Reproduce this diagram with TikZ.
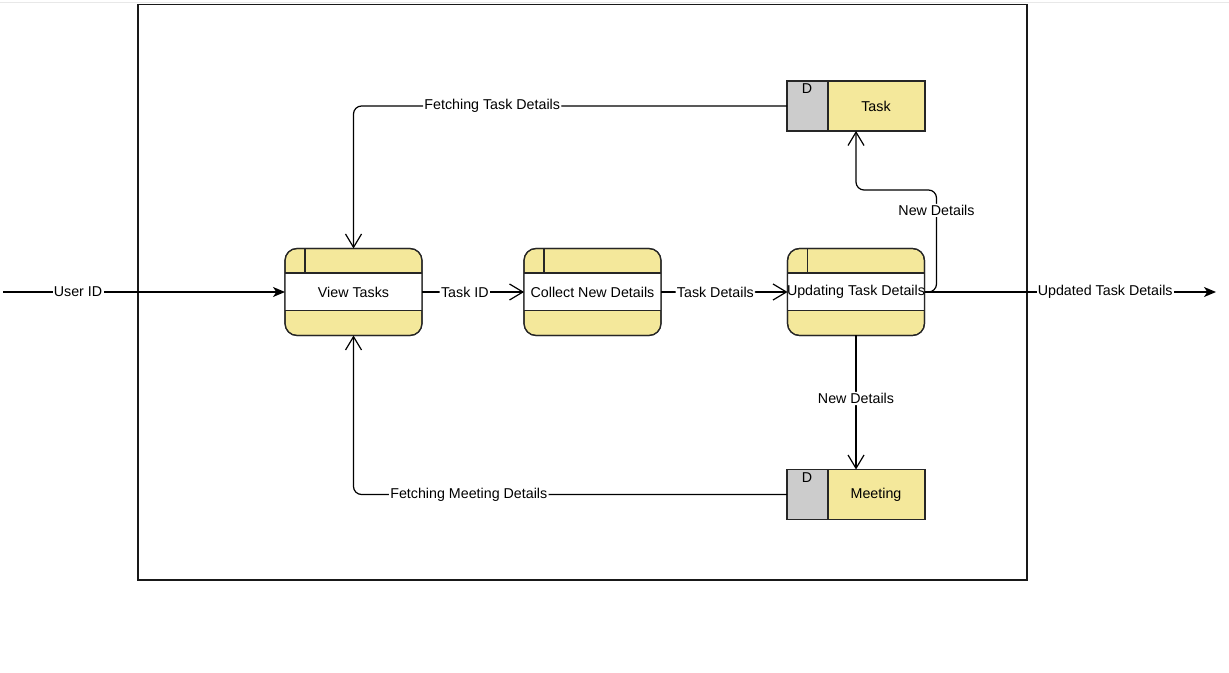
\documentclass[tikz,border=0pt]{standalone}
\usepackage{fontspec}
\setmainfont{Liberation Sans}
\usetikzlibrary{arrows.meta,calc}
\definecolor{procyellow}{RGB}{244,232,155}
\definecolor{storegray}{RGB}{204,204,204}
\definecolor{edgegray}{RGB}{232,232,232}
\tikzset{
  txt/.style={font=\fontsize{10.7}{12}\selectfont, text=black},
  procshape/.style={draw=black!85, line width=0.9pt, fill=procyellow, rounded corners=9pt,
    minimum width=102.75pt, minimum height=65.25pt, inner sep=0pt, outer sep=0pt},
  storeshape/.style={draw=black!85, line width=0.9pt, fill=procyellow,
    minimum width=103.5pt, minimum height=37.5pt, inner sep=0pt, outer sep=0pt},
  lbl/.style={txt, fill=white, inner sep=1pt},
  flow/.style={draw=black, line width=0.9pt, rounded corners=6pt,
    -{Straight Barb[length=10pt,width=12pt,line width=0.9pt]}},
  flowio/.style={draw=black, line width=0.9pt,
    -{Stealth[length=9pt,width=7.5pt,inset=2.5pt]}},
}
% process box: name, x, y, text
\newcommand{\procbox}[4]{%
  \node[procshape] (#1) at (#2,#3) {};
  \fill[white] (#2-68.5,#3-19) rectangle (#2+68.5,#3+18.5);
  \draw[black!85, line width=0.9pt] (#2-68.5,#3-19) -- (#2+68.5,#3-19)
        (#2-68.5,#3+18.5) -- (#2+68.5,#3+18.5)
        (#2-48.5,#3-43.5) -- (#2-48.5,#3-19);
  \draw[black!85, line width=0.9pt, rounded corners=9pt]
        (#1.north west) rectangle (#1.south east);
  \node[txt] (#1-t) at (#2,#3) {#4};
}
% data store: name, x, y, text
\newcommand{\storebox}[4]{%
  \node[storeshape] (#1) at (#2,#3) {};
  \draw[black!85, line width=0.9pt, fill=storegray] (#2-69,#3-25) rectangle (#2-28,#3+25);
  \node[txt] (#1-d) at (#2-49,#3-17) {D};
  \node[txt] (#1-t) at (#2+20,#3) {#4};
}
\begin{document}
\begin{tikzpicture}[x=0.75pt,y=-0.75pt]
\useasboundingbox (0,0) rectangle (1229,673);
\draw[edgegray, line width=0.75pt] (0,3) -- (1229,3);
% system boundary
\draw[black!90, line width=0.9pt] (138,4.5) rectangle (1027,580);

\procbox{vt}{353.5}{292}{View Tasks}
\procbox{cnd}{592.5}{292}{Collect New Details}
\procbox{upd}{856}{292}{Updating Task Details}
\storebox{task}{856}{106}{Task}
\storebox{meet}{856}{494.5}{Meeting}

\coordinate (uin) at (3,292);
\coordinate (uout) at (1216,292);

\draw[flowio] (uin) -- node[lbl,pos=0.266]{User ID} (vt.west);
\draw[flow] (vt.east) -- node[lbl,pos=0.42]{Task ID} (cnd.west);
\draw[flow] (cnd.east) -- node[lbl,pos=0.43]{Task Details} (upd.west);
\draw[flowio] (upd.east) -- node[lbl,pos=0.62]{Updated Task Details} (uout);

\draw[flow] (task.west) -| node[lbl,pos=0.34]{Fetching Task Details} (vt.north);
\draw[flow] (meet.west) -| node[lbl,pos=0.367]{Fetching Meeting Details} (vt.south);

\draw[flow] (upd.east) -- ++(12,0) -- node[lbl,pos=0.8]{New Details} ++(0,-102)
   -- (task.south |- 0,190) -- (task.south);
\draw[flow] (upd.south) -- node[lbl,pos=0.47]{New Details} (meet.north);
\end{tikzpicture}
\end{document}
